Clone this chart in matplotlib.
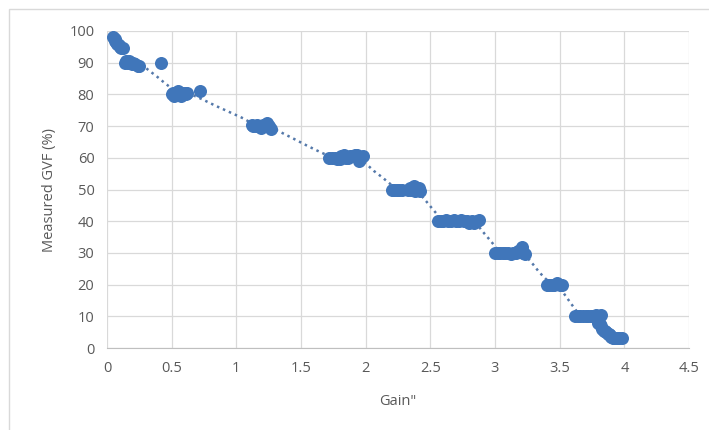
import numpy as np
import matplotlib
matplotlib.use("Agg")
import matplotlib.pyplot as plt
from matplotlib.patches import Rectangle

gain = [0.05, 0.06, 0.06, 0.07, 0.08, 0.09, 0.10, 0.11, 0.12,
        0.14, 0.15, 0.16, 0.17, 0.18, 0.19, 0.20, 0.21, 0.22, 0.24, 0.25, 0.42,
        0.50, 0.51, 0.52, 0.53, 0.54, 0.55, 0.56, 0.57, 0.58, 0.59, 0.60, 0.61, 0.62, 0.72,
        1.12, 1.13, 1.15, 1.16, 1.18, 1.19, 1.20, 1.21, 1.22, 1.23, 1.24, 1.25, 1.27,
        1.72, 1.74, 1.76, 1.78, 1.80, 1.81, 1.83, 1.85, 1.86, 1.88, 1.90, 1.92, 1.93, 1.95, 1.96, 1.98,
        2.20, 2.22, 2.24, 2.26, 2.28, 2.33, 2.34, 2.35, 2.37, 2.38, 2.40, 2.41, 2.42,
        2.56, 2.58, 2.60, 2.62, 2.64, 2.66, 2.68, 2.70, 2.72, 2.74, 2.76, 2.78, 2.80, 2.82, 2.84, 2.86, 2.88,
        3.00, 3.02, 3.04, 3.06, 3.08, 3.10, 3.12, 3.14, 3.16, 3.18, 3.20, 3.21, 3.22, 3.23,
        3.40, 3.42, 3.44, 3.46, 3.48, 3.50, 3.52,
        3.62, 3.64, 3.66, 3.68, 3.70, 3.72, 3.74, 3.76, 3.78, 3.80, 3.82,
        3.80, 3.81, 3.82, 3.83, 3.84, 3.85, 3.86, 3.87, 3.88, 3.89, 3.90, 3.91, 3.92, 3.94, 3.96, 3.98]
gvf = [98, 97.5, 97, 96.5, 96, 95.5, 95, 94.5, 94.5,
       90, 90.5, 90, 90.5, 90, 89.5, 90, 89.5, 89.5, 89, 89, 90,
       80, 80.5, 79.5, 80, 80.5, 81, 80, 79.5, 80.5, 80, 80.5, 80, 80.5, 81,
       70.5, 70, 70, 70.5, 70, 69.5, 70, 70.5, 70, 70.5, 71, 70, 69,
       60, 60, 60, 59.5, 59.5, 60.5, 61, 60, 60, 60.5, 60.5, 61, 61, 59, 60, 60.5,
       50, 50, 50, 50, 50, 50, 50.5, 50, 51, 49.5, 50, 50.5, 49.5,
       40, 40, 40, 40.5, 40, 40, 40.5, 40, 40, 40.5, 40, 40, 39.5, 40, 39.5, 40, 40.5,
       30, 30, 30, 30, 30, 30, 29.5, 30, 30, 30.5, 30.5, 32, 30, 29.5,
       20, 20, 20, 20, 20.5, 20, 20,
       10, 10, 10, 10, 10, 10, 10, 10, 10.5, 10, 10.5,
       8, 7.5, 7, 6, 5.5, 5.5, 5, 4.5, 4.5, 4, 3.5, 3, 3, 3, 3, 3]

x_ticks = [0, 0.5, 1, 1.5, 2, 2.5, 3, 3.5, 4, 4.5]
x_tick_labels = ["0", "0.5", "1", "1.5", "2", "2.5", "3", "3.5", "4", "4.5"]
y_ticks = [0, 10, 20, 30, 40, 50, 60, 70, 80, 90, 100]

plt.rcParams['font.family'] = ['Open Sans', 'DejaVu Sans']

fig = plt.figure(figsize=(7.09, 4.30), dpi=100)
fig.patches.append(Rectangle((9/709, -0.1), 1.2, 1 - 9/430 + 0.1,
                             transform=fig.transFigure, fill=False,
                             edgecolor='#d9d9d9', linewidth=1.0))
ax = fig.add_axes([107/709, 1 - 348/430, 582/709, 317/430])

color = '#4076BA'
ax.scatter(gain, gvf, s=88, color=color, zorder=3, linewidths=0)

# moving-average style trendline on sorted data
order = np.argsort(gain, kind='stable')
xs = np.array(gain)[order]
ys = np.array(gvf)[order]
period = 5
kern = np.ones(period) / period
mx = np.convolve(xs, kern, mode='valid')
my = np.convolve(ys, kern, mode='valid')
ax.plot(mx, my, linestyle=(0, (1, 1.6)), color='#5579aa', linewidth=1.8, zorder=2)

ax.set_xlim(0, 4.5)
ax.set_ylim(0, 100)
ax.set_xticks(x_ticks)
ax.set_xticklabels(x_tick_labels)
ax.set_yticks(y_ticks)
ax.grid(True, color='#d9d9d9', linewidth=0.9)
ax.set_axisbelow(True)
for s in ['top', 'right', 'left']:
    ax.spines[s].set_visible(False)
ax.spines['bottom'].set_color('#bfbfbf')
ax.tick_params(length=0, labelsize=10.5, colors='#595959', pad=9)
ax.set_xlabel('Gain"', fontsize=10.5, color='#595959', labelpad=13)
ax.set_ylabel('Measured GVF (%)', fontsize=10.5, color='#595959', labelpad=9)

fig.savefig('out.png', dpi=100)
